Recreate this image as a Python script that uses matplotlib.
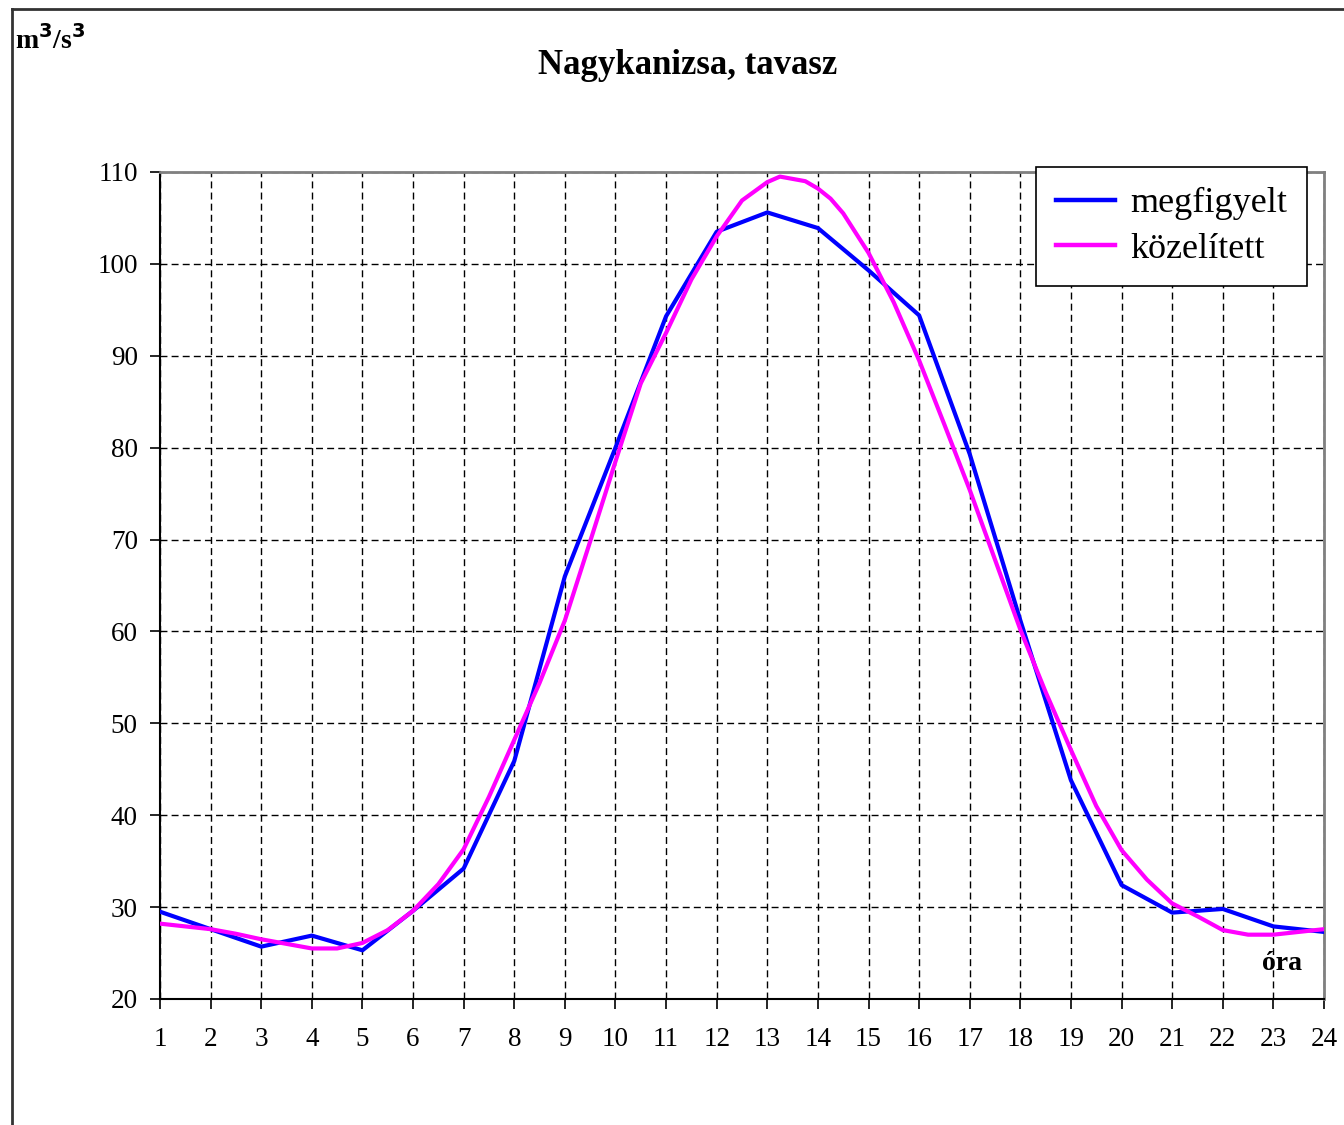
import numpy as np
import matplotlib.pyplot as plt
from matplotlib.lines import Line2D

# hourly observed discharge
hours = list(range(1, 25))
observed = [29.5, 27.6, 25.7, 26.9, 25.3, 29.6, 34.2, 45.9, 66.0, 80.0, 94.3, 103.5,
            105.6, 103.9, 99.3, 94.4, 79.3, 61.2, 43.8, 32.4, 29.4, 29.8, 27.9, 27.3]

# fitted curve, sampled finer than hourly
fit_hours = [1, 1.5, 2, 2.5, 3, 3.5, 4, 4.5, 5, 5.5, 6, 6.5, 7, 7.5, 8, 8.5, 9, 9.5,
             10, 10.5, 11, 11.5, 12, 12.5, 13, 13.25, 13.75, 14, 14.25, 14.5, 15,
             15.5, 16, 16.5, 17, 17.5, 18, 18.5, 19, 19.5, 20, 20.5, 21, 21.5, 22,
             22.5, 23, 23.5, 24]
fitted = [28.2, 27.9, 27.6, 27.1, 26.5, 26.0, 25.5, 25.5, 26.1, 27.5, 29.6, 32.5,
          36.3, 42.0, 48.2, 54.4, 61.2, 69.8, 78.5, 87.0, 92.5, 98.3, 103.0, 106.9,
          108.9, 109.5, 109.0, 108.2, 107.1, 105.5, 101.2, 95.8, 89.5, 82.5, 75.4,
          67.8, 60.2, 53.4, 47.1, 41.0, 36.2, 33.0, 30.4, 29.0, 27.5, 27.0, 27.0,
          27.3, 27.6]

series_names = ["megfigyelt", "közelített"]

plt.rcParams['font.family'] = ['Liberation Serif', 'DejaVu Serif']

fig = plt.figure(figsize=(13.44, 11.25), dpi=100)
ax = fig.add_axes([160/1344, 1 - 999/1125, 1164/1344, 827/1125])

ax.plot(hours, observed, color='#0000FF', lw=3.0, label=series_names[0], zorder=3)
ax.plot(fit_hours, fitted, color='#FF00FF', lw=3.0, label=series_names[1], zorder=3)

ax.set_xlim(1, 24)
ax.set_ylim(20, 110)
ax.set_xticks(hours)
ax.set_yticks(np.arange(20, 111, 10))
ax.grid(True, color='black', lw=1, linestyle=(0, (5, 3)))
ax.set_axisbelow(True)

ax.tick_params(axis='x', direction='out', length=7, width=1.2, pad=13, labelsize=19.5)
ax.tick_params(axis='y', direction='out', length=7, width=1.2, pad=9, labelsize=19.5)

for side in ['top', 'right']:
    ax.spines[side].set_color('#808080')
    ax.spines[side].set_linewidth(2)
for side in ['left', 'bottom']:
    ax.spines[side].set_color('black')
    ax.spines[side].set_linewidth(1.5)

leg = ax.legend(loc='upper left', bbox_to_anchor=(0.7526, 1.006), fontsize=26,
                frameon=True, fancybox=False, edgecolor='black', framealpha=1,
                handlelength=1.65, handletextpad=0.4, borderpad=0.55,
                labelspacing=0.35, borderaxespad=0)
leg.get_frame().set_linewidth(1.2)
for h in leg.get_lines():
    h.set_linewidth(3.2)

fig.text(688/1344, 1 - 66/1125, "Nagykanizsa, tavasz", ha='center', va='center',
         fontsize=25, fontweight='bold')
fig.text(15/1344, 1 - 40/1125, r"m$^{\mathbf{3}}$/s$^{\mathbf{3}}$", ha='left',
         va='center', fontsize=20, fontweight='bold')
ax.text(23.57, 23.9, "óra", ha='right', va='center', fontsize=20,
        fontweight='bold')

# outer frame
fig.add_artist(Line2D([12/1344, 1], [1 - 9/1125, 1 - 9/1125], color='#333333', lw=2))
fig.add_artist(Line2D([12/1344, 12/1344], [0, 1 - 9/1125], color='#333333', lw=2))

fig.savefig('out.png', dpi=100, facecolor='white')
